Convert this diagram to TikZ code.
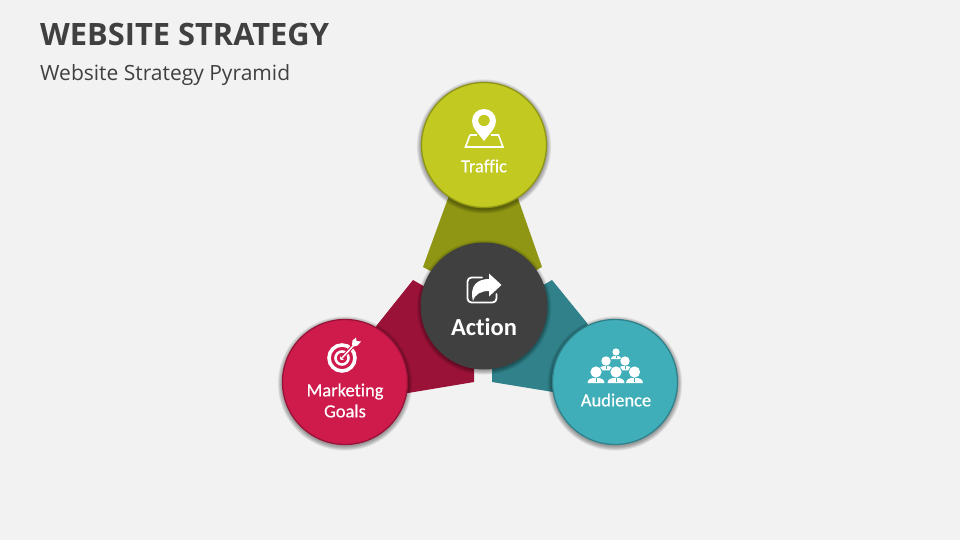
\documentclass[tikz,border=0pt]{standalone}
\usepackage{fontspec}
\setmainfont{Open Sans}
\newfontfamily\lab[FakeBold=0.5,Ligatures=NoCommon]{Carlito}
\newfontfamily\labb[Ligatures=NoCommon]{Carlito}
\definecolor{bg}{HTML}{F2F2F2}
\definecolor{ink}{HTML}{404040}
\definecolor{olive}{HTML}{C2C921}
\definecolor{oliveD}{HTML}{8F9614}
\definecolor{crim}{HTML}{CE1B4C}
\definecolor{crimD}{HTML}{9A1238}
\definecolor{teal2}{HTML}{3FAEB8}
\definecolor{tealD}{HTML}{30818A}
\newcommand{\softshadow}[3]{%
  \foreach \k in {0,...,7}{\fill[black,opacity=0.05] (#1,#2) ++(0,1.5) circle ({#3+4.2-\k*0.6});}}
\tikzset{
  disc/.style={circle,draw=#1,line width=1.3pt,minimum size=125pt,inner sep=0pt},
  lbl/.style={font=\lab\fontsize{18.5}{20}\selectfont,text=white,align=center,inner sep=0pt}
}
\begin{document}
\begin{tikzpicture}[x=1pt,y=-1pt]
\useasboundingbox (0,0) rectangle (960,540);
\fill[bg] (0,0) rectangle (960,540);
\node[anchor=west,inner sep=0pt,text=ink,font=\bfseries\fontsize{30.8}{36}\selectfont] (title) at (40,35) {WEBSITE STRATEGY};
\node[anchor=west,inner sep=0pt,text=ink,font=\fontsize{21}{24}\selectfont] (subtitle) at (40,75.5) {Website Strategy Pyramid};
% wedges
\fill[oliveD] (423,267) -- (451,190) -- (515,190) -- (542,267) -- (484,300) -- cycle;
\fill[crimD] (413,280) -- (474,315) -- (474,382) -- (408,393) -- (345,382) -- (377,325) -- cycle;
\fill[tealD] (552,280) -- (587,323) -- (615,382) -- (553,392) -- (492,382) -- (492,315) -- cycle;
% circles
\softshadow{484}{145}{63}
\node[disc=oliveD,fill=olive] (traffic) at (484,145) {};
\softshadow{484}{306}{63}
\node[circle,fill=ink,minimum size=127pt,inner sep=0pt] (action) at (484,306) {};
\softshadow{345}{382}{63}
\node[disc=crimD,fill=crim] (goals) at (345,382) {};
\softshadow{615}{382}{63}
\node[disc=tealD,fill=teal2] (audience) at (615,382) {};
% labels
\node[lbl] (ltraffic) at (484,166) {Traffic};
\node[lbl,font=\labb\bfseries\fontsize{24.5}{26}\selectfont] (laction) at (484,327) {Action};
\node[lbl,font=\lab\fontsize{18.5}{21}\selectfont] (lgoals) at (345,400.5) {Marketing\\Goals};
\node[lbl] (laudience) at (616,400) {Audience};
% pin icon
\draw[white,line width=1.6pt,line join=miter] (470,135) -- (465.5,147) -- (503,147) -- (498.5,135) -- (491,135);
\draw[white,line width=1.6pt] (470,135) -- (477,135);
\fill[white,even odd rule] (484,141) .. controls (478,133) and (472,128) .. (472,121) .. controls (472,114) and (477.5,109) .. (484,109) .. controls (490.5,109) and (496,114) .. (496,121) .. controls (496,128) and (490,133) .. (484,141) -- cycle (484,120.5) circle (5.8);
% target icon
\draw[white,line width=3.6pt] (342,358) circle (13);
\draw[white,line width=2.6pt] (342,358) circle (6.5);
\fill[white] (342,358) circle (2.2);
\draw[crim,line width=3.6pt] (342,358) -- (353,346);
\draw[white,line width=1.5pt] (342,358) -- (354,345);
\fill[white] (352,345) -- (352.5,340.5) -- (356,337.5) -- (356.5,341) -- (361,341.5) -- (357.5,345.5) -- (353.5,346.5) -- cycle;
% share icon
\draw[white,line width=1.8pt,line cap=round,rounded corners=4pt] (482,277.5) -- (467.5,277.5) -- (467.5,302.5) -- (496.5,302.5) -- (496.5,294);
\fill[white] (501.5,285) -- (489,273.5) -- (489,279) .. controls (478,279) and (469,285) .. (473,301) .. controls (475,294) and (481,291) .. (489,291) -- (489,296.5) -- cycle;
% audience icon
\foreach \x/\y/\r/\b in {616/352/3.6/5.5,606/361/4.7/7.5,625/361/4.7/7.5,596/372/5.6/8.5,616/372/5.6/8.5,634.5/372/5.6/8.5}{
  \fill[teal2] (\x,\y) circle ({\r+0.7});
  \fill[white] (\x,\y) circle (\r);
  \fill[white] ({\x-\b},{\y+\r*2}) .. controls ({\x-\b},{\y+\r+1.5}) and ({\x-\b*0.6},{\y+\r+0.3}) .. (\x,{\y+\r+0.3}) .. controls ({\x+\b*0.6},{\y+\r+0.3}) and ({\x+\b},{\y+\r+1.5}) .. ({\x+\b},{\y+\r*2}) -- cycle;
  \draw[teal2,line width=0.8pt] (\x,{\y+\r+0.6}) -- (\x,{\y+\r*1.8});
}
\end{tikzpicture}
\end{document}
